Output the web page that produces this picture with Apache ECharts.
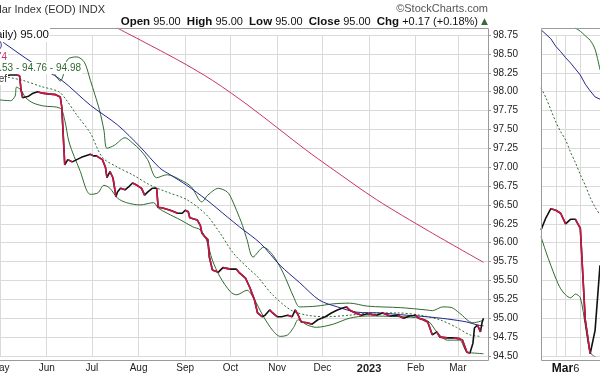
<!DOCTYPE html>
<html>
<head>
<meta charset="utf-8">
<script src="https://cdn.jsdelivr.net/npm/echarts@6/dist/echarts.min.js"></script>
<style>
html, body { margin: 0; padding: 0; background: #fff; }
#chart { width: 600px; height: 376px; }
</style>
</head>
<body>
<div id="chart"></div>
<script>
// $USD daily close
var priceDates = ['2022-05-01','2022-05-04','2022-05-08','2022-05-12','2022-05-14','2022-05-15','2022-05-16','2022-05-20','2022-05-23','2022-05-26','2022-05-29',
  '2022-06-02','2022-06-07','2022-06-10','2022-06-11','2022-06-13','2022-06-15','2022-06-18','2022-06-22','2022-06-24','2022-06-27','2022-06-30',
  '2022-07-02','2022-07-04','2022-07-08','2022-07-10','2022-07-11','2022-07-13','2022-07-15','2022-07-17','2022-07-18','2022-07-20','2022-07-23','2022-07-26','2022-07-28','2022-07-31',
  '2022-08-03','2022-08-05','2022-08-07','2022-08-10','2022-08-13','2022-08-14','2022-08-17','2022-08-22','2022-08-27','2022-08-30',
  '2022-09-01','2022-09-03','2022-09-04','2022-09-09','2022-09-11','2022-09-12','2022-09-14','2022-09-16','2022-09-17','2022-09-19','2022-09-23','2022-09-26',
  '2022-10-01','2022-10-05','2022-10-07','2022-10-11','2022-10-14','2022-10-17','2022-10-19','2022-10-22','2022-10-24','2022-10-27','2022-10-29',
  '2022-11-01','2022-11-04','2022-11-08','2022-11-11','2022-11-13','2022-11-15','2022-11-17','2022-11-21','2022-11-24','2022-11-28',
  '2022-12-03','2022-12-07','2022-12-11','2022-12-15','2022-12-17','2022-12-19','2022-12-23','2022-12-27','2022-12-31',
  '2023-01-06','2023-01-10','2023-01-15','2023-01-20','2023-01-24','2023-01-28',
  '2023-02-01','2023-02-03','2023-02-06','2023-02-09','2023-02-12','2023-02-15','2023-02-17','2023-02-22','2023-02-26',
  '2023-03-02','2023-03-04','2023-03-07','2023-03-09','2023-03-11','2023-03-12','2023-03-14','2023-03-16','2023-03-17','2023-03-18'];
var priceValues = [98.19,98.21,98.22,98.22,98.21,98.02,97.92,97.94,97.98,98.00,97.98,
  97.97,97.96,97.93,97.80,97.03,97.10,97.07,97.11,97.13,97.15,97.17,
  97.15,97.15,97.10,97.00,96.86,96.94,96.86,96.61,96.67,96.72,96.70,96.75,96.79,96.76,
  96.72,96.63,96.67,96.72,96.72,96.47,96.46,96.43,96.39,96.39,
  96.43,96.41,96.33,96.30,96.23,96.13,96.08,96.04,95.81,95.64,95.61,95.67,
  95.65,95.65,95.60,95.53,95.40,95.24,95.07,95.02,95.04,95.11,95.07,
  95.02,95.02,95.04,95.02,95.11,95.04,94.95,94.94,94.92,94.98,
  95.02,95.07,95.11,95.14,95.15,95.11,95.07,95.04,95.06,
  95.04,95.07,95.03,95.04,95.00,95.03,
  95.04,95.00,94.98,94.95,94.78,94.82,94.75,94.74,94.74,
  94.73,94.71,94.55,94.54,94.67,94.87,94.91,94.82,94.94,95.00];

// MA(50)
var ma50Dates = ['2022-05-01','2022-05-04','2022-05-22','2022-06-11','2022-06-30','2022-07-18','2022-08-02','2022-08-15','2022-08-22','2022-09-02','2022-09-15','2022-09-29',
  '2022-10-07','2022-10-21','2022-11-03','2022-11-16','2022-11-29','2022-12-11','2022-12-24','2023-01-08','2023-01-26','2023-02-08','2023-02-22','2023-03-07','2023-03-14','2023-03-18'];
var ma50Values = [98.68,98.64,98.39,98.15,97.82,97.56,97.27,96.99,96.90,96.76,96.57,96.34,
  96.21,95.99,95.70,95.47,95.24,95.15,95.08,95.07,95.04,95.02,94.99,94.95,94.91,94.90];

// MA(200)
var ma200Dates = ['2022-07-18','2022-08-27','2022-09-19','2022-10-14','2022-11-20','2022-12-06','2023-01-06','2023-02-10','2023-03-18'];
var ma200Values = [98.84,98.42,98.15,97.80,97.23,97.00,96.57,96.15,95.74];

// BB(20,2.0) upper / middle / lower
var bbUpDates = ['2022-05-01','2022-05-21','2022-06-05','2022-06-10','2022-06-13','2022-06-15','2022-06-21','2022-06-26','2022-06-30',
  '2022-07-03','2022-07-06','2022-07-09','2022-07-11','2022-07-16','2022-07-23','2022-07-28','2022-08-02','2022-08-07','2022-08-13','2022-08-20','2022-08-29',
  '2022-09-05','2022-09-12','2022-09-16','2022-09-23','2022-09-29','2022-10-02','2022-10-05','2022-10-09','2022-10-12','2022-10-16','2022-10-23','2022-10-29',
  '2022-11-05','2022-11-12','2022-11-16','2022-11-27','2022-12-08','2022-12-19','2022-12-31','2023-01-22','2023-02-08','2023-02-12','2023-02-19','2023-02-25',
  '2023-03-02','2023-03-11','2023-03-16','2023-03-18'];
var bbUpValues = [98.29,98.29,98.25,98.14,98.29,98.43,98.46,98.39,98.15,
  97.96,97.76,97.49,97.25,97.29,97.39,97.32,97.23,97.10,96.86,96.90,96.83,
  96.74,96.54,96.63,96.72,96.67,96.57,96.43,96.23,96.04,95.81,95.94,95.84,
  95.60,95.28,95.15,95.16,95.19,95.20,95.16,95.14,95.11,95.10,95.15,95.14,
  95.07,94.94,94.96,94.98];

var bbMidDates = ['2022-05-01','2022-05-16','2022-05-28','2022-06-09','2022-06-14','2022-06-21','2022-06-30','2022-07-08','2022-07-18','2022-07-28',
  '2022-08-09','2022-08-20','2022-09-02','2022-09-15','2022-09-24','2022-10-03','2022-10-14','2022-10-19','2022-10-29','2022-11-10','2022-11-21',
  '2022-12-04','2022-12-19','2023-01-04','2023-01-20','2023-02-04','2023-02-17','2023-02-28','2023-03-09','2023-03-16'];
var bbMidValues = [98.21,98.15,98.07,98.00,97.89,97.69,97.45,97.13,97.00,96.90,
  96.76,96.67,96.57,96.37,96.13,95.86,95.64,95.55,95.31,95.11,95.04,
  95.02,95.04,95.07,95.07,95.04,94.98,94.88,94.78,94.76];

var bbLowDates = ['2022-05-01','2022-05-08','2022-05-11','2022-05-12','2022-05-15','2022-05-18','2022-05-23','2022-05-30','2022-06-10','2022-06-13','2022-06-16','2022-06-23','2022-06-30',
  '2022-07-05','2022-07-09','2022-07-13','2022-07-18','2022-07-24','2022-08-02','2022-08-11','2022-08-14','2022-08-20','2022-08-29',
  '2022-09-06','2022-09-11','2022-09-15','2022-09-19','2022-09-24','2022-10-01','2022-10-05','2022-10-12','2022-10-16','2022-10-23','2022-10-29',
  '2022-11-03','2022-11-08','2022-11-12','2022-11-15','2022-11-21','2022-11-27','2022-12-08','2022-12-19','2022-12-31','2023-01-22',
  '2023-02-04','2023-02-10','2023-02-15','2023-02-22','2023-03-02','2023-03-07','2023-03-11','2023-03-18'];
var bbLowValues = [97.89,97.88,97.94,98.06,98.02,97.92,97.85,97.81,97.78,97.62,97.32,96.96,96.64,
  96.66,96.76,96.72,96.59,96.53,96.50,96.53,96.46,96.39,96.30,
  96.21,96.17,96.04,95.77,95.55,95.35,95.31,95.37,95.28,95.02,94.84,
  94.76,94.78,94.88,94.98,94.91,94.88,94.92,95.00,95.03,95.02,
  95.00,94.95,94.82,94.71,94.71,94.55,94.54,94.53];

// right-hand (cropped) panel
var rightLabels = ['','','','','','Mar 6','','','','','','',''];
var rightPrice = [96.17,96.33,96.45,96.43,96.39,96.25,96.31,96.31,96.19,94.98,94.53,94.84,95.70];
var rightMa50 = [98.82,98.76,98.70,98.60,98.53,98.45,98.38,98.30,98.22,98.10,98.01,97.93,97.90];
var rightUpper = ['-','-','-','-','-','-','-',98.84,98.80,98.74,98.68,98.56,98.29];
var rightMid = [98.05,97.92,97.76,97.60,97.47,97.36,97.20,97.06,96.90,96.76,96.60,96.47,96.37];
var rightLower = [96.08,95.88,95.70,95.53,95.39,95.31,95.27,95.32,95.27,94.91,94.55,94.49,94.47];

var monthNames = ['Jan','Feb','Mar','Apr','May','Jun','Jul','Aug','Sep','Oct','Nov','Dec'];
var FONT = 'Liberation Sans, Arial, sans-serif';
var C_PRICE = '#111', C_DOWN = '#cc1546', C_MA50 = '#26268c', C_MA200 = '#c93466', C_BB = '#2f6a2f';
var GRID_C = '#dadada', FRAME_C = '#9a9a9a';

function pairs(xs, ys) {
  return xs.map(function (x, i) { return [x, ys[i]]; });
}
// red pieces of the close line: each falling step, broken off from the next
function downSteps(xs, ys) {
  var out = [];
  for (var i = 1; i < ys.length; i++) {
    if (ys[i] < ys[i - 1]) out.push([xs[i - 1], ys[i - 1]], [xs[i], ys[i]], [xs[i], '-']);
  }
  return out;
}
function line(data, color, opts) {
  var s = {
    type: 'line', data: data, symbol: 'none', showSymbol: false, animation: false,
    lineStyle: { color: color, width: 1 }, itemStyle: { color: color }, z: 3
  };
  for (var k in opts) {
    if (k === 'width' || k === 'type') s.lineStyle[k] = opts[k]; else s[k] = opts[k];
  }
  return s;
}
function label(text, x, y, color, size) {
  return {
    type: 'text', x: x, y: y, z: 100,
    style: {
      text: text, fill: color, font: (size || 10) + 'px ' + FONT,
      align: 'right', verticalAlign: 'middle', textAlign: 'right', textVerticalAlign: 'middle',
      backgroundColor: '#fff', padding: [1, 1]
    }
  };
}

var rightIdx = rightLabels.map(function (_, i) { return i; });
var rightSplit = [3, 5, 8];

var chart = echarts.init(document.getElementById('chart'), null, { renderer: 'canvas' });

var option = {
  animation: false,
  useUTC: true,
  backgroundColor: '#fff',
  grid: [
    { left: 0, right: 112, top: 35, bottom: 20, outerBoundsMode: 'none' },
    { left: 541, right: 0, top: 35, bottom: 20, outerBoundsMode: 'none' }
  ],
  xAxis: [{
    type: 'time', gridIndex: 0,
    min: '2022-05-01', max: '2023-03-21',
    splitNumber: 11, minInterval: 28 * 864e5, maxInterval: 31 * 864e5,
    axisLine: { show: false }, axisTick: { show: false },
    axisLabel: {
      color: '#222', fontSize: 10, fontFamily: FONT, margin: 7,
      formatter: function (v) {
        var d = new Date(v);
        if (d.getUTCDate() !== 1) return '';
        if (d.getUTCMonth() === 0) return '{y|' + d.getUTCFullYear() + '}';
        return monthNames[d.getUTCMonth()];
      },
      rich: { y: { fontWeight: 'bold', fontSize: 11, fontFamily: FONT, color: '#222' } }
    },
    splitLine: { show: true, lineStyle: { color: GRID_C, width: 1 } }
  }, {
    type: 'category', gridIndex: 1, data: rightLabels, boundaryGap: false,
    axisLine: { show: false }, axisTick: { show: false },
    axisLabel: {
      interval: 0, margin: 7, fontSize: 11, fontFamily: FONT, color: '#222',
      formatter: function (v) {
        if (!v) return '';
        var p = v.split(' ');
        return '{b|' + p[0] + '}' + p[1];
      },
      rich: { b: { fontWeight: 'bold', fontSize: 12, fontFamily: FONT, color: '#111' } }
    },
    splitLine: {
      show: true, lineStyle: { color: GRID_C },
      interval: function (i) { return rightSplit.indexOf(i) >= 0; }
    }
  }],
  yAxis: [{
    type: 'value', gridIndex: 0, position: 'right',
    min: 94.5, max: 98.75, interval: 0.25,
    axisLine: { show: false },
    axisTick: { show: true, length: 3, lineStyle: { color: FRAME_C } },
    axisLabel: {
      color: '#222', fontSize: 10, fontFamily: FONT, margin: 5,
      formatter: function (v) { return v.toFixed(2); }
    },
    splitLine: { show: true, lineStyle: { color: GRID_C } }
  }, {
    type: 'value', gridIndex: 1,
    min: 94.5, max: 98.75, interval: 0.25,
    axisLine: { show: false }, axisTick: { show: false }, axisLabel: { show: false },
    splitLine: { show: true, lineStyle: { color: GRID_C } }
  }],
  series: [
    line(pairs(bbUpDates, bbUpValues), C_BB, { smooth: 0.3 }),
    line(pairs(bbLowDates, bbLowValues), C_BB, { smooth: 0.3 }),
    line(pairs(bbMidDates, bbMidValues), C_BB, { smooth: 0.3, type: [2, 2] }),
    line(pairs(ma50Dates, ma50Values), C_MA50, { smooth: 0.3 }),
    line(pairs(ma200Dates, ma200Values), C_MA200, { smooth: 0.3, clip: false }),
    line(pairs(priceDates, priceValues), C_PRICE, { width: 1.6, z: 4 }),
    line(downSteps(priceDates, priceValues), C_DOWN, { width: 1.6, z: 5 }),

    line(rightUpper, C_BB, { xAxisIndex: 1, yAxisIndex: 1, smooth: 0.3, clip: false }),
    line(rightLower, C_BB, { xAxisIndex: 1, yAxisIndex: 1, smooth: 0.3 }),
    line(rightMid, C_BB, { xAxisIndex: 1, yAxisIndex: 1, smooth: 0.3, type: [2, 2] }),
    line(rightMa50, C_MA50, { xAxisIndex: 1, yAxisIndex: 1, clip: false }),
    line(rightPrice, C_PRICE, { xAxisIndex: 1, yAxisIndex: 1, width: 1.6, z: 4 }),
    line(downSteps(rightIdx, rightPrice), C_DOWN, { xAxisIndex: 1, yAxisIndex: 1, width: 1.6, z: 5 })
  ],
  graphic: [
    // plot frames
    { type: 'polyline', z: 50, silent: true, shape: { points: [[0, 28.5], [488.5, 28.5], [488.5, 360.5], [0, 360.5]] },
      style: { stroke: FRAME_C, fill: null, lineWidth: 1 } },
    { type: 'polyline', z: 50, silent: true, shape: { points: [[601, 28.5], [541.5, 28.5], [541.5, 360.5], [601, 360.5]] },
      style: { stroke: FRAME_C, fill: null, lineWidth: 1 } },
    // titles
    { type: 'text', x: 105, y: 10, z: 100,
      style: { text: '$USD US Dollar Index (EOD) INDX', fill: '#333', font: '11px ' + FONT,
        align: 'right', verticalAlign: 'middle', textAlign: 'right', textVerticalAlign: 'middle' } },
    { type: 'text', x: 488, y: 9, z: 100,
      style: { text: '\u00a9StockCharts.com', fill: '#555', font: '11px ' + FONT,
        align: 'right', verticalAlign: 'middle', textAlign: 'right', textVerticalAlign: 'middle' } },
    { type: 'text', x: 488, y: 22, z: 100,
      style: {
        text: '{b|Open} 95.00  {b|High} 95.00  {b|Low} 95.00  {b|Close} 95.00  {b|Chg} +0.17 (+0.18%) {t|\u25b2}',
        fill: '#111', font: '11px ' + FONT,
        align: 'right', verticalAlign: 'middle', textAlign: 'right', textVerticalAlign: 'middle',
        rich: {
          b: { font: 'bold 11.5px ' + FONT, fill: '#111' },
          t: { font: '9px DejaVu Sans', fill: '#3b6b3b' }
        }
      } },
    // legend
    label('\u25a0 $USD (Daily) 95.00', 50, 35, '#111', 11.5),
    label('\u2014 MA(50) 94.90', 3, 46, C_MA50),
    label('\u2014 MA(200) 95.74', 8, 57, C_MA200),
    label('\u2014 BB(20,2.0) 94.53 - 94.76 - 94.98', 82, 68, C_BB),
    label('\u2014 Volume undef', 8, 79, '#333')
  ]
};

chart.setOption(option);
</script>
</body>
</html>
